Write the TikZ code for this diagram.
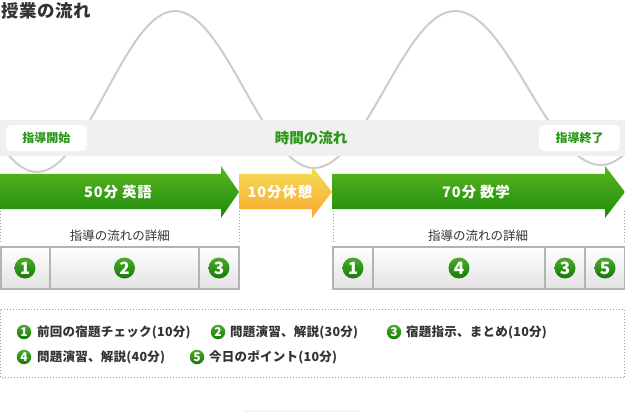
\documentclass[tikz,border=0pt]{standalone}
\usepackage{fontspec}
\setmainfont{Noto Sans CJK JP}
\definecolor{titlec}{HTML}{333333}
\definecolor{wavec}{HTML}{CCCCCC}
\definecolor{bandc}{HTML}{F0F0F0}
\definecolor{greentxt}{HTML}{2A9516}
\definecolor{gtop}{HTML}{5AB61E}
\definecolor{gbot}{HTML}{1D8A0B}
\definecolor{otop}{HTML}{F4DE58}
\definecolor{obot}{HTML}{F8A82E}
\definecolor{dotc}{HTML}{999999}
\definecolor{cellb}{HTML}{B3B3B3}
\definecolor{cellbot}{HTML}{E2E2E2}
\definecolor{ctop}{HTML}{4CAA2C}
\definecolor{cbot}{HTML}{167A08}
\begin{document}
\begin{tikzpicture}[x=1pt,y=-1pt,
  wave/.style={draw=wavec,line width=2pt},
  labelbox/.style={fill=white,rounded corners=5pt,minimum width=81pt,minimum height=26pt,inner sep=0pt,
     font=\fontsize{12}{12}\selectfont\bfseries,text=greentxt},
  flowtext/.style={font=\fontsize{14.5}{14.5}\selectfont\bfseries,text=greentxt,inner sep=0pt},
  arrowtext/.style={font=\fontsize{14.5}{14.5}\selectfont\bfseries\addfontfeature{LetterSpace=6},text=white,inner sep=0pt},
  garrow/.style={top color=gtop,bottom color=gbot},
  oarrow/.style={top color=otop,bottom color=obot},
  dotline/.style={draw=dotc,line width=1pt,dotted},
  detailtext/.style={font=\fontsize{12.5}{12.5}\selectfont,text=titlec,inner sep=0pt},
  cell/.style={top color=white,bottom color=cellbot,draw=cellb,line width=1.5pt},
  bignum/.style={circle,minimum size=21pt,inner sep=0pt,top color=ctop,bottom color=cbot,
     text=white,font=\fontsize{17}{17}\selectfont\bfseries},
  smallnum/.style={circle,minimum size=14.5pt,inner sep=0pt,top color=ctop,bottom color=cbot,
     text=white,font=\fontsize{12}{12}\selectfont\bfseries},
  legtext/.style={anchor=west,inner sep=0pt,text=titlec,font=\fontsize{12.5}{12.5}\selectfont\bfseries\addfontfeature{LetterSpace=2}}
]
\useasboundingbox (0,0) rectangle (625,412);
\clip (0,0) rectangle (625,412);

% title
\node[anchor=north west,inner sep=0pt,text=titlec,font=\fontsize{17.5}{17.5}\selectfont\bfseries\addfontfeature{LetterSpace=4}] (title) at (1,2) {授業の流れ};

% wave
\draw[wave] (-31,91.5) sin (37,172) cos (106,91.5) sin (175,11) cos (244.5,89.5) sin (314,168)
   cos (384.5,89.5) sin (455,11) cos (528,88) sin (601,165) cos (670,88);

% band
\fill[bandc] (0,120) rectangle (625,156);
\node[labelbox] (start) at (46.5,138) {指導開始};
\node[labelbox] (end) at (579.5,138) {指導終了};
\node[flowtext] (flow) at (311,138) {時間の流れ};

% arrows
\shade[garrow] (0,174) -- (221,174) -- (221,166) -- (239,192) -- (221,218) -- (221,209) -- (0,209) -- cycle;
\shade[oarrow] (239,174) -- (312,174) -- (312,166) -- (332,192) -- (312,218) -- (312,209) -- (239,209) -- cycle;
\shade[garrow] (332,174) -- (605,174) -- (605,166) -- (625,192) -- (605,218) -- (605,209) -- (332,209) -- cycle;
\node[arrowtext] (eng) at (118,192) {50分\hspace{4pt}英語};
\node[arrowtext] (rest) at (280,192) {10分休憩};
\node[arrowtext] (math) at (476,192) {70分\hspace{4pt}数学};

% detail frames
\draw[dotline] (0.5,211) -- (0.5,244);
\draw[dotline] (239,211) -- (239,244);
\draw[dotline] (333,211) -- (333,244);
\draw[dotline] (624.5,211) -- (624.5,244);
\node[detailtext] (d1) at (120,236) {指導の流れの詳細};
\node[detailtext] (d2) at (478,236) {指導の流れの詳細};

% cells
\shade[cell] (0.75,247) rectangle (50,289);
\shade[cell] (50,247) rectangle (199,289);
\shade[cell] (199,247) rectangle (239,289);
\shade[cell] (333,247) rectangle (373,289);
\shade[cell] (373,247) rectangle (545,289);
\shade[cell] (545,247) rectangle (585,289);
\shade[cell] (585,247) rectangle (624.25,289);
\node[bignum] (a1) at (25,268) {1};
\node[bignum] (a2) at (124.5,268) {2};
\node[bignum] (a3) at (219,268) {3};
\node[bignum] (b1) at (353,268) {1};
\node[bignum] (b4) at (459,268) {4};
\node[bignum] (b3) at (565,268) {3};
\node[bignum] (b5) at (605,268) {5};

% legend
\draw[dotline] (0.5,309.5) rectangle (624.5,377.5);
\node[smallnum] (l1) at (24,332) {1};
\node[legtext] (t1) at (37,332) {前回の宿題チェック(10分)};
\node[smallnum] (l2) at (218,332) {2};
\node[legtext] (t2) at (230,332) {問題演習、解説(30分)};
\node[smallnum] (l3) at (394,332) {3};
\node[legtext] (t3) at (406,332) {宿題指示、まとめ(10分)};
\node[smallnum] (l4) at (24,357) {4};
\node[legtext] (t4) at (37,357) {問題演習、解説(40分)};
\node[smallnum] (l5) at (197,357) {5};
\node[legtext] (t5) at (209,357) {今日のポイント(10分)};

% faint strip at bottom
\fill[black!4] (243,410) rectangle (360,412);
\end{tikzpicture}
\end{document}
